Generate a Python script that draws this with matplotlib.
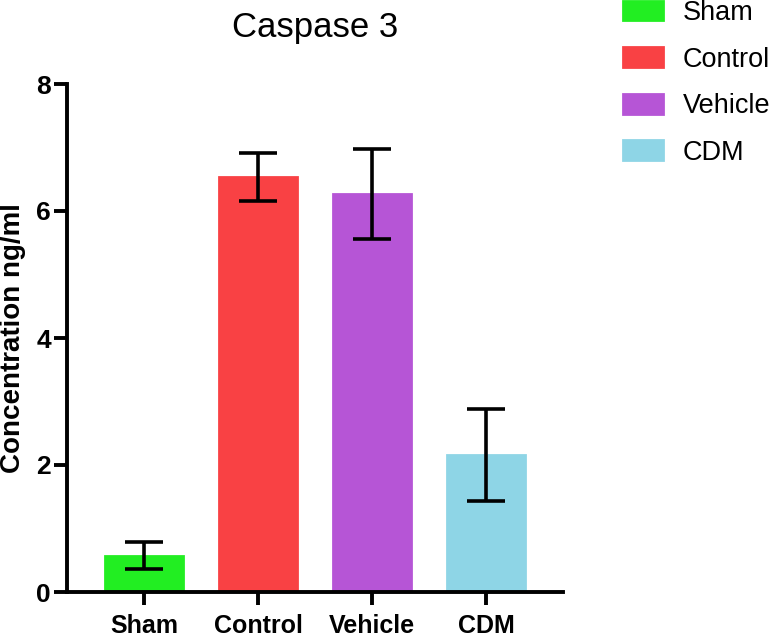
import matplotlib
matplotlib.use("Agg")
import matplotlib.pyplot as plt
from matplotlib.patches import Patch

plt.rcParams['font.family'] = ['Liberation Sans', 'DejaVu Sans']

groups = ["Sham", "Control", "Vehicle", "CDM"]
means = [0.57, 6.53, 6.27, 2.16]
errors = [0.21, 0.38, 0.71, 0.72]
colors = ["#22EE22", "#F94144", "#B655D6", "#8ED5E6"]
yticks = [0, 2, 4, 6, 8]

fig = plt.figure(figsize=(7.71, 6.36), dpi=100)
ax = fig.add_axes([67 / 771, 44 / 636, (563 - 67) / 771, (592 - 84) / 636])

x = list(range(len(groups)))
ax.bar(x, means, width=0.68, color=colors, edgecolor=colors, linewidth=2,
       zorder=2)
ax.errorbar(x, means, yerr=errors, fmt='none', ecolor='black',
            elinewidth=2.6, capsize=13.5, capthick=2.6, zorder=3)

ax.set_xlim(-0.675, 3.675)
ax.set_ylim(0, 8)
ax.set_yticks(yticks)
ax.set_xticks(x)
ax.set_xticklabels(groups, fontsize=18, fontweight='bold')
ax.set_yticklabels([str(v) for v in yticks], fontsize=19, fontweight='bold')
for side in ("top", "right"):
    ax.spines[side].set_visible(False)
for side in ("left", "bottom"):
    ax.spines[side].set_linewidth(2.8)
ax.tick_params(axis='both', direction='out', length=9.5, width=2.8)
ax.tick_params(axis='y', pad=2)
ax.tick_params(axis='x', pad=6)

ax.set_ylabel("Concentration ng/ml", fontsize=20, fontweight='bold')
ax.yaxis.set_label_coords(-0.083, 0.5)
ax.set_title("Caspase 3", fontsize=25, pad=34)

handles = [Patch(facecolor=c, edgecolor=c, linewidth=2) for c in colors]
fig.legend(handles, groups, loc='upper left', bbox_to_anchor=(623 / 771, 1.0),
           frameon=False, fontsize=19.5, handlelength=1.48, handleheight=0.74,
           handletextpad=0.74, labelspacing=0.76, borderpad=0, borderaxespad=0)

fig.savefig("out.png", dpi=100)
